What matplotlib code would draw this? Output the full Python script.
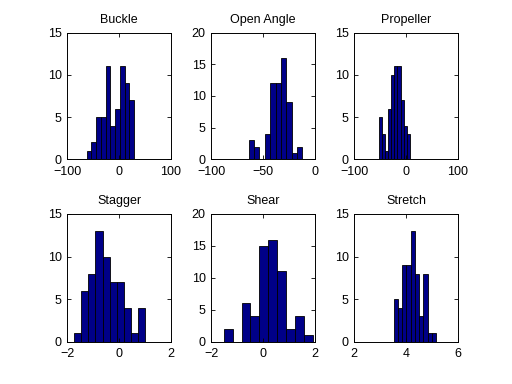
import numpy as np
import matplotlib
matplotlib.use("Agg")
import matplotlib.pyplot as plt

plt.rcParams['font.family'] = ['Liberation Sans', 'DejaVu Sans']

titles = ["Buckle", "Open Angle", "Propeller", "Stagger", "Shear", "Stretch"]

# histogram counts (10 bins each) and the bin range
buckle_counts = [1, 2, 5, 5, 11, 4, 6, 11, 9, 7]
buckle_range = (-62.7, 29.3)
open_angle_counts = [3, 2, 0, 4, 12, 12, 16, 9, 1, 2]
open_angle_range = (-63.8, -12.0)
propeller_counts = [5, 3, 1, 6, 10, 11, 11, 7, 4, 3]
propeller_range = (-52.8, 7.4)
stagger_counts = [1, 6, 8, 13, 10, 7, 7, 4, 1, 4]
stagger_range = (-1.73, 1.0)
shear_counts = [2, 0, 6, 4, 15, 16, 11, 2, 4, 1]
shear_range = (-1.52, 1.92)
stretch_counts = [5, 4, 9, 9, 13, 8, 3, 8, 1, 1]
stretch_range = (3.527, 5.16)

counts = [buckle_counts, open_angle_counts, propeller_counts,
          stagger_counts, shear_counts, stretch_counts]
ranges = [buckle_range, open_angle_range, propeller_range,
          stagger_range, shear_range, stretch_range]

xlims = [(-100, 100), (-100, 0), (-100, 100), (-2, 2), (-2, 2), (2, 6)]
xticks = [[-100, 0, 100], [-100, -50, 0], [-100, 0, 100],
          [-2, 0, 2], [-2, 0, 2], [2, 4, 6]]
ylims = [(0, 15), (0, 20), (0, 15), (0, 15), (0, 20), (0, 15)]
yticks = [[0, 5, 10, 15], [0, 5, 10, 15, 20], [0, 5, 10, 15],
          [0, 5, 10, 15], [0, 5, 10, 15, 20], [0, 5, 10, 15]]

W, H = 512, 384
fig = plt.figure(figsize=(W / 100, H / 100), dpi=100)

lefts = [67.3, 211.3, 354.3]
width = 103.5
rows = [(32.7, 159.3), (214.0, 341.7)]

for i in range(6):
    r, c = divmod(i, 3)
    top, bot = rows[r]
    ax = fig.add_axes([lefts[c] / W, (H - bot) / H, width / W, (bot - top) / H])
    edges = np.linspace(ranges[i][0], ranges[i][1], len(counts[i]) + 1)
    ax.bar(edges[:-1], counts[i], width=np.diff(edges), align='edge',
           color='#000088', edgecolor='black', linewidth=0.6)
    ax.set_xlim(*xlims[i])
    ax.set_ylim(*ylims[i])
    ax.set_xticks(xticks[i])
    ax.set_yticks(yticks[i])
    ax.tick_params(direction='in', length=3, width=0.6, labelsize=9,
                   top=True, right=True)
    ax.tick_params(axis='x', pad=4.5)
    ax.tick_params(axis='y', pad=4)
    for s in ax.spines.values():
        s.set_linewidth(0.7)
    ax.set_title(titles[i], fontsize=9, pad=7)

fig.savefig("out.png", dpi=100)
